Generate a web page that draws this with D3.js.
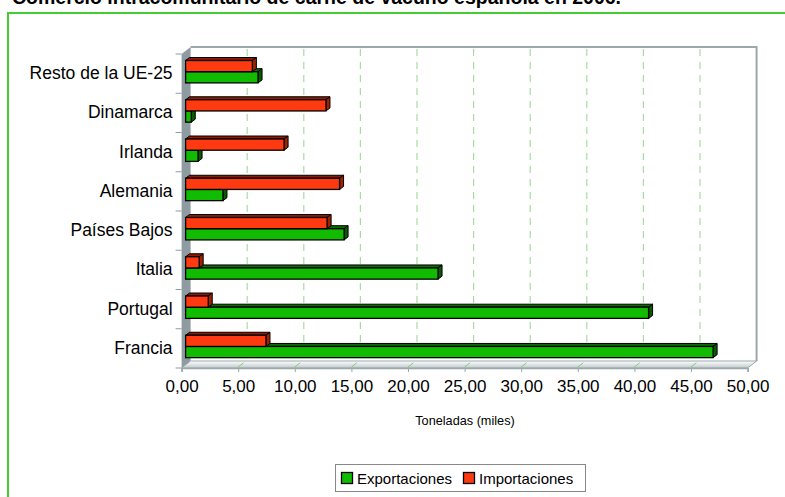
<!DOCTYPE html>
<html><head><meta charset="utf-8">
<script src="https://cdn.jsdelivr.net/npm/d3@7"></script>
<style>body{margin:0;background:#fff}svg{display:block;font-family:Arial,"Liberation Sans",sans-serif}</style>
</head><body><svg id="c" width="785" height="497"></svg>
<script>
const title = "Comercio intracomunitario de carne de vacuno española en 2006.";
const categories = ["Resto de la UE-25","Dinamarca","Irlanda","Alemania","Países Bajos","Italia","Portugal","Francia"];
const exportaciones = [6.4, 0.5, 1.1, 3.3, 14.0, 22.3, 40.9, 46.6];
const importaciones = [5.9, 12.4, 8.7, 13.6, 12.5, 1.2, 2.0, 7.1];
const ticks = [0,5,10,15,20,25,30,35,40,45,50];
const seriesNames = ["Exportaciones","Importaciones"];
const colors = {Exportaciones:{front:"#11bb00",top:"#0b6a00",side:"#0a5a00"}, Importaciones:{front:"#ff3a10",top:"#8f1a00",side:"#a02000"}};

const svg = d3.select("#c");
const DX = 9, DY = -7;       // wall depth
const BX = 4, BY = -3;       // bar depth
const x = d3.scaleLinear().domain([0,50]).range([181.6,747.6]);
const y = d3.scaleBand().domain(categories).range([54,368]);
const yTop = 54, yBot = 368;

// title (cut off at top)
svg.append("text").attr("x",12).attr("y",4).attr("font-size",19.5).attr("font-weight","bold").attr("fill","#000").text(title);

// green frame
svg.append("path").attr("d","M8,497 L8,13 L785,13").attr("fill","none").attr("stroke","#44cc33").attr("stroke-width",2);

// back wall
svg.append("rect").attr("x",x(0)+DX).attr("y",yTop+DY).attr("width",x(50)-x(0)).attr("height",yBot-yTop).attr("fill","#fff");
// left wall
svg.append("path").attr("d",`M${x(0)},${yTop} L${x(0)+DX},${yTop+DY} L${x(0)+DX},${yBot+DY} L${x(0)},${yBot} Z`).attr("fill","#8e9ca2");
// floor
const grad = svg.append("defs").append("linearGradient").attr("id","fl").attr("x1",0).attr("y1",0).attr("x2",0).attr("y2",1);
grad.append("stop").attr("offset","0").attr("stop-color","#ffffff");
grad.append("stop").attr("offset","1").attr("stop-color","#c0cacc");
svg.append("path").attr("d",`M${x(0)},${yBot} L${x(0)+DX},${yBot+DY} L${x(50)+DX},${yBot+DY} L${x(50)},${yBot} Z`).attr("fill","url(#fl)").attr("stroke","#9aa8ac").attr("stroke-width",1);
// back wall border
svg.append("path").attr("d",`M${x(0)+DX},${yTop+DY} L${x(50)+DX},${yTop+DY} L${x(50)+DX},${yBot+DY}`).attr("fill","none").attr("stroke","#9aa8ac").attr("stroke-width",2);

// gridlines
ticks.filter(t=>t>0 && t<50).forEach(t=>{
  svg.append("line").attr("x1",x(t)+DX).attr("x2",x(t)+DX).attr("y1",yTop+DY+2).attr("y2",yBot+DY).attr("stroke","#a8dca0").attr("stroke-width",1.2).attr("stroke-dasharray","7,6");
  svg.append("line").attr("x1",x(t)).attr("x2",x(t)+DX*0.6).attr("y1",yBot-1).attr("y2",yBot+DY*0.6-1).attr("stroke","#7fd070").attr("stroke-width",1);
});

// x axis
const xAxis = d3.axisBottom(x).tickValues(ticks).tickSize(4).tickFormat(d=>d3.format(".2f")(d).replace(".",","));
const gx = svg.append("g").attr("transform",`translate(0,${yBot})`).call(xAxis);
gx.select(".domain").attr("stroke","#9aa8ac").attr("stroke-width",1.5);
gx.selectAll(".tick line").attr("stroke","#9aa8ac");
gx.selectAll(".tick text").attr("font-size",17).attr("fill","#000").attr("dy","1.0em").attr("font-family","Arial,'Liberation Sans',sans-serif");

// y axis
const yAxis = d3.axisLeft(y).tickSize(0).tickPadding(9);
const gy = svg.append("g").attr("transform",`translate(${x(0)},0)`).call(yAxis);
gy.select(".domain").remove();
gy.selectAll(".tick text").attr("font-size",17.5).attr("fill","#000").attr("font-family","Arial,'Liberation Sans',sans-serif");
const bounds = categories.map(c=>y(c)).concat([yBot]);
svg.selectAll(".ytk").data(bounds).enter().append("line").attr("x1",x(0)-6).attr("x2",x(0)).attr("y1",d=>d).attr("y2",d=>d).attr("stroke","#8e9ca2").attr("stroke-width",1);

svg.append("text").attr("x",465).attr("y",425).attr("text-anchor","middle").attr("font-size",12.7).attr("fill","#000").text("Toneladas (miles)");

// bars
const h = 11.2;
function bar(cat, val, serie, top){
  const c = colors[serie];
  const x0 = x(0)+BX, x1 = x(val)+BX, y0 = top, y1 = top+h;
  const g = svg.append("g");
  g.append("path").attr("d",`M${x0},${y0} L${x0+BX},${y0+BY} L${x1+BX},${y0+BY} L${x1},${y0} Z`).attr("fill",c.top).attr("stroke","#000").attr("stroke-width",1).attr("stroke-linejoin","round");
  g.append("path").attr("d",`M${x1},${y0} L${x1+BX},${y0+BY} L${x1+BX},${y1+BY} L${x1},${y1} Z`).attr("fill",c.side).attr("stroke","#000").attr("stroke-width",1).attr("stroke-linejoin","round");
  g.append("rect").attr("x",x0).attr("y",y0).attr("width",x1-x0).attr("height",h).attr("fill",c.front).attr("stroke","#000").attr("stroke-width",1.3);
}
categories.forEach((cat,i)=>{
  const b = y(cat);
  bar(cat, exportaciones[i], "Exportaciones", b+6.5+h);
  bar(cat, importaciones[i], "Importaciones", b+6.5);
});

// legend
const lg = svg.append("g");
lg.append("rect").attr("x",335.5).attr("y",464.5).attr("width",250).attr("height",27).attr("fill","#fff").attr("stroke","#888").attr("stroke-width",1);
const items = [{n:seriesNames[0],x:341},{n:seriesNames[1],x:463}];
items.forEach(it=>{
  lg.append("rect").attr("x",it.x+0.5).attr("y",472.5).attr("width",11).attr("height",11).attr("fill",colors[it.n].front).attr("stroke","#000").attr("stroke-width",1.3);
  lg.append("text").attr("x",it.x+16).attr("y",484).attr("font-size",15).attr("fill","#000").text(it.n);
});
</script></body></html>
